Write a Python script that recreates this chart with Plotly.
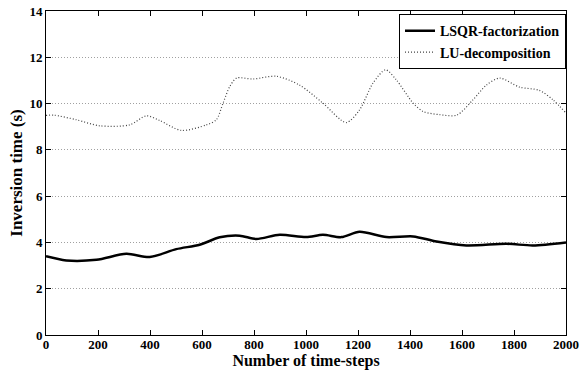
import plotly.graph_objects as go

lsqr_x = [0, 78, 194, 309, 399, 501, 591, 668, 745, 809, 899, 1001, 1065, 1136, 1206, 1309, 1412, 1502, 1617, 1771, 1873, 2000]
lsqr_y = [3.40, 3.22, 3.25, 3.51, 3.37, 3.71, 3.90, 4.22, 4.29, 4.15, 4.33, 4.23, 4.33, 4.23, 4.46, 4.23, 4.26, 4.04, 3.87, 3.94, 3.87, 4.00]

lu_x = [0, 30, 117, 206, 322, 386, 437, 521, 617, 655, 681, 707, 733, 796, 886, 975, 1065, 1155, 1206, 1258, 1306, 1347, 1412, 1450, 1515, 1580, 1642, 1694, 1745, 1822, 1898, 1950, 2000]
lu_y = [9.49, 9.50, 9.30, 9.04, 9.08, 9.47, 9.27, 8.84, 9.08, 9.30, 10.02, 10.74, 11.10, 11.06, 11.18, 10.80, 10.02, 9.18, 9.73, 10.89, 11.46, 11.03, 10.02, 9.66, 9.52, 9.50, 10.16, 10.80, 11.10, 10.71, 10.57, 10.16, 9.59]

x_ticks = list(range(0, 2001, 200))
y_ticks = list(range(0, 15, 2))

font_family = "Liberation Serif"

fig = go.Figure()
fig.add_trace(go.Scatter(x=lsqr_x, y=lsqr_y, mode="lines", name="<b>LSQR-factorization</b>",
                         line=dict(color="black", width=2.5, shape="spline", smoothing=0.8)))
fig.add_trace(go.Scatter(x=lu_x, y=lu_y, mode="lines", name="<b>LU-decomposition</b>",
                         line=dict(color="#444444", width=1.2, dash="1px,2px", shape="spline", smoothing=0.8)))

fig.update_layout(
    width=582, height=371,
    margin=dict(l=46, r=16, t=11, b=36, autoexpand=False),
    plot_bgcolor="white", paper_bgcolor="white",
    font=dict(family=font_family, size=13, color="black"),
    showlegend=True,
    legend=dict(x=1, y=0.99, xanchor="right", yanchor="top",
                bordercolor="black", borderwidth=1, bgcolor="white",
                font=dict(family=font_family, size=14, color="black"),
                tracegroupgap=0, itemwidth=30),
    xaxis=dict(
        range=[0, 2000], tickvals=x_ticks, ticktext=[f"<b>{v}</b>" for v in x_ticks],
        showline=True, linecolor="black", linewidth=1, mirror="ticks",
        ticks="inside", ticklen=5, tickcolor="black", ticklabelstandoff=-3,
        showgrid=False, zeroline=False, automargin=False,
        title=dict(text="<b>Number of time-steps</b>", font=dict(size=16, family=font_family), standoff=2),
        tickfont=dict(size=13, family=font_family),
    ),
    yaxis=dict(
        range=[0, 14], tickvals=y_ticks, ticktext=[f"<b>{v}</b>" for v in y_ticks],
        showline=True, linecolor="black", linewidth=1, mirror="ticks",
        ticks="inside", ticklen=5, tickcolor="black",
        showgrid=True, gridcolor="#a0a0a0", griddash="1px,2px", gridwidth=1,
        zeroline=False, automargin=False,
        title=dict(text="<b>Inversion time (s)</b>", font=dict(size=17, family=font_family), standoff=2),
        tickfont=dict(size=13, family=font_family),
    ),
)

# Remove the browser's default 8px body margin so the figure sits at the page origin.
fig.write_html("out.html", config={"displayModeBar": False},
               post_script="document.body.style.margin='0';")
